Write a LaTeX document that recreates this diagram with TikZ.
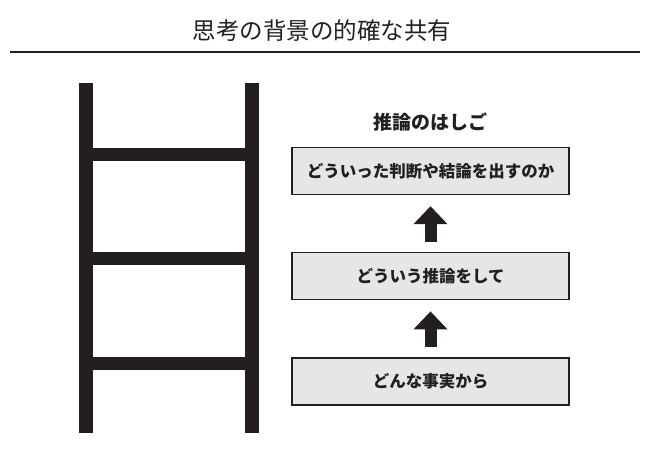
\documentclass[tikz,border=0pt]{standalone}
\usepackage{fontspec}
\setmainfont{Noto Sans CJK JP}
\usetikzlibrary{arrows.meta, positioning}
\definecolor{inkblack}{RGB}{35, 31, 32}
\definecolor{boxgray}{RGB}{230, 230, 232}

\begin{document}
\begin{tikzpicture}[
                x=1pt, y=-1pt,
                node distance=57pt,
                box/.style={rectangle, draw=inkblack, fill=boxgray, line width=1.2pt, minimum width=277pt, minimum height=47pt, align=center, font=\fontsize{16.5}{19}\selectfont\bfseries, text=inkblack},
                fatarrow/.style={inkblack, line width=12pt, -{Triangle[width=33pt, length=18pt]}, shorten <=10pt, shorten >=11pt},
                rail/.style={inkblack, line width=14pt},
                rung/.style={inkblack, line width=13pt}
            ]
                \useasboundingbox (0,0) rectangle (651,449);
                % title
                \node [font=\fontsize{23.5}{27}\selectfont, text=inkblack] (title) at (322,31) {思考の背景の的確な共有};
                \draw [inkblack, line width=1.2pt] (10,52) -- (640,52);
                
                % ladder
                \draw [rail] (86,83) -- (86,433);
                \draw [rail] (252,83) -- (252,433);
                \foreach \y in {154.5, 259, 363}
                    \draw [rung] (93,\y) -- (245,\y);
                
                % steps of the ladder of inference
                \node [box] (facts) at (430.5,381.5) {どんな事実から};
                \node [box, above=of facts] (reason) {どういう推論をして};
                \node [box, above=of reason] (result) {どういった判断や結論を出すのか};
                \node [above=12pt of result, font=\fontsize{19}{23}\selectfont\bfseries, text=inkblack] (heading) {推論のはしご};
                
                \draw [fatarrow] (facts) -- (reason);
                \draw [fatarrow] (reason) -- (result);
            \end{tikzpicture}
\end{document}
